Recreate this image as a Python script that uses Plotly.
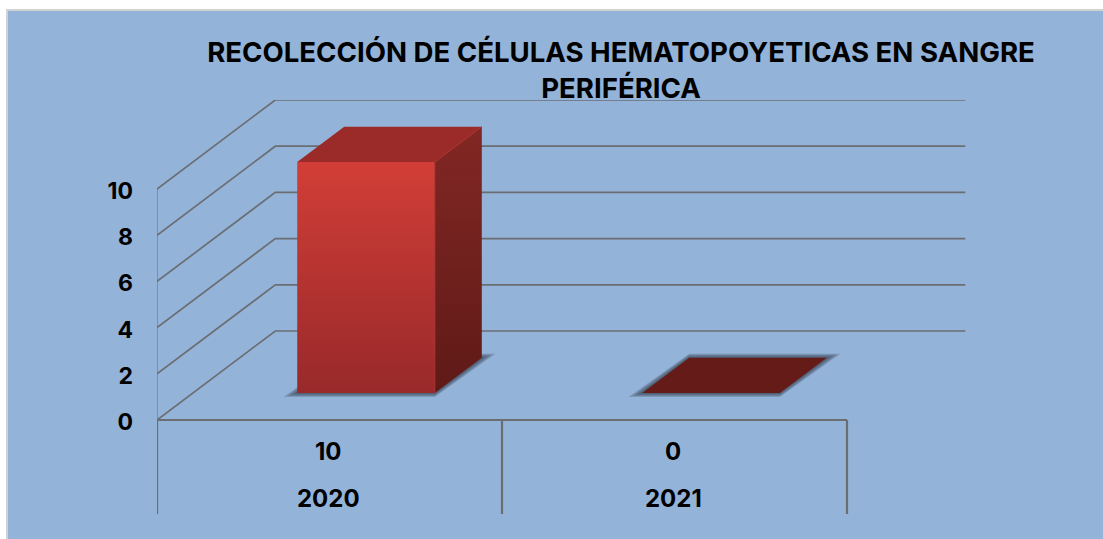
import plotly.graph_objects as go

# --- data ---
years = ["2020", "2021"]
values = [10, 0]
value_labels = ["10", "0"]
y_ticks = [0, 2, 4, 6, 8, 10]
title_lines = ["RECOLECCIÓN DE CÉLULAS HEMATOPOYETICAS EN SANGRE", "PERIFÉRICA"]

# --- oblique projection (styles / geometry) ---
W, H = 1103, 539
ML, MR, MT, MB = 157, 137, 100, 25
Y0_PX = 420.0
PX_X = 345.0
PX_Y = 23.1
X_RANGE = [0, (W - ML - MR) / PX_X]
Y_RANGE = [-(H - MB - Y0_PX) / PX_Y, (Y0_PX - MT) / PX_Y]
DX = 118.3 / PX_X
DY = 89 / PX_Y
BAR_W = 137.6 / PX_X
D_FRONT, D_BACK = 0.303, 0.70
LINE = "#6A6E73"
FONT = "Inter"


def proj(x, v, d=0.0):
    return x + d * DX, v + d * DY


fig = go.Figure()


def poly(pts, color=None, grad=None):
    xs = [p[0] for p in pts] + [pts[0][0]]
    ys = [p[1] for p in pts] + [pts[0][1]]
    kw = {}
    if grad:
        kw["fillgradient"] = dict(type="vertical", colorscale=[[0, grad[0]], [1, grad[1]]])
    else:
        kw["fillcolor"] = color
    fig.add_trace(go.Scatter(x=xs, y=ys, mode="lines", fill="toself",
                             line=dict(width=0, color="rgba(0,0,0,0)"),
                             hoverinfo="skip", showlegend=False, **kw))


def seg(xs, ys, width=2.0, color=LINE):
    fig.add_trace(go.Scatter(x=xs, y=ys, mode="lines", line=dict(color=color, width=width),
                             hoverinfo="skip", showlegend=False))


n = len(years)
# walls
seg([0, 0], [y_ticks[0], y_ticks[-1]], 1.5, "#7E8286")
for t in y_ticks:
    p0 = proj(0, t, 0)
    p1 = proj(0, t, 1)
    p2 = proj(n, t, 1)
    seg([p0[0], p1[0], p2[0]], [p0[1], p1[1], p2[1]], 1.7)
# floor front + category separators
seg([0, n], [0, 0], 2.2)
for i in range(n + 1):
    seg([i, i], [0, Y_RANGE[0]], 2.2)

TOPS = ["#9A2B28", "#651C18"]
for i, v in enumerate(values):
    x0 = i + 0.502 - BAR_W / 2
    x1 = x0 + BAR_W
    # soft floor shadow
    for k in (4.0, 3.0, 2.0, 1.0):
        ox, oy = k * 3.4 / PX_X, k / PX_Y
        a = proj(x0, 0, D_FRONT)
        b = proj(x1, 0, D_FRONT)
        c = proj(x1, 0, D_BACK)
        d = proj(x0, 0, D_BACK)
        poly([(a[0] - ox, a[1] - oy), (b[0], b[1] - oy), (c[0] + ox, c[1] + oy), (d[0], d[1] + oy)],
             color="rgba(50,60,75,0.24)")
    fbl = proj(x0, 0, D_FRONT)
    fbr = proj(x1, 0, D_FRONT)
    ftl = proj(x0, v, D_FRONT)
    ftr = proj(x1, v, D_FRONT)
    bbr = proj(x1, 0, D_BACK)
    btr = proj(x1, v, D_BACK)
    btl = proj(x0, v, D_BACK)
    if v > 0:
        poly([fbr, bbr, btr, ftr], grad=("#5F1A17", "#822724"))
        poly([fbl, fbr, ftr, ftl], grad=("#98292A", "#D23E37"))
    poly([ftl, ftr, btr, btl], color=TOPS[i])
    if v > 0:
        seg([fbr[0], ftr[0], btr[0]], [fbr[1], ftr[1], btr[1]], 1.0, "#AE302C")

layout_ann = []
for i in range(n):
    layout_ann.append(dict(x=i + 0.497, y=(Y0_PX - 451) / PX_Y, xref="x", yref="y",
                           text=value_labels[i], showarrow=False))
    layout_ann.append(dict(x=i + 0.497, y=(Y0_PX - 498) / PX_Y, xref="x", yref="y",
                           text=years[i], showarrow=False))
for a in layout_ann:
    a["font"] = dict(family=FONT, size=24, color="#000000", weight="bold")
    a["xanchor"] = "center"
    a["yanchor"] = "middle"

pw = W - ML - MR
ph = H - MT - MB
fig.update_layout(
    width=W, height=H, autosize=False,
    margin=dict(l=ML, r=MR, t=MT, b=MB, pad=0),
    paper_bgcolor="#FFFFFF", plot_bgcolor="rgba(0,0,0,0)",
    title=dict(text="<br>".join(title_lines),
               font=dict(family=FONT, size=27.6, color="#000000", weight="bold"),
               x=621 / W, xref="container", xanchor="center",
               y=1 - 62 / H, yref="container", yanchor="middle"),
    xaxis=dict(range=X_RANGE, visible=False, fixedrange=True),
    yaxis=dict(range=Y_RANGE, tickmode="array", tickvals=y_ticks,
               ticktext=[str(t) for t in y_ticks], showgrid=False, zeroline=False,
               showline=False, ticks="", ticklabelstandoff=23, ticklabelshift=2, fixedrange=True,
               tickfont=dict(family=FONT, size=23, color="#000000", weight="bold")),
    annotations=layout_ann,
    shapes=[dict(type="rect", xref="paper", yref="paper", layer="below",
                 x0=(7 - ML) / pw, x1=(W + 5 - ML) / pw,
                 y0=(-MB - 5) / ph, y1=(H - MB - 10) / ph,
                 fillcolor="#94B3D8", line=dict(color="#D2D2D2", width=2))],
    showlegend=False,
)
fig.write_html("out.html", config=dict(displayModeBar=False),
               post_script="document.body.style.margin='0';document.documentElement.style.overflow='hidden';")
